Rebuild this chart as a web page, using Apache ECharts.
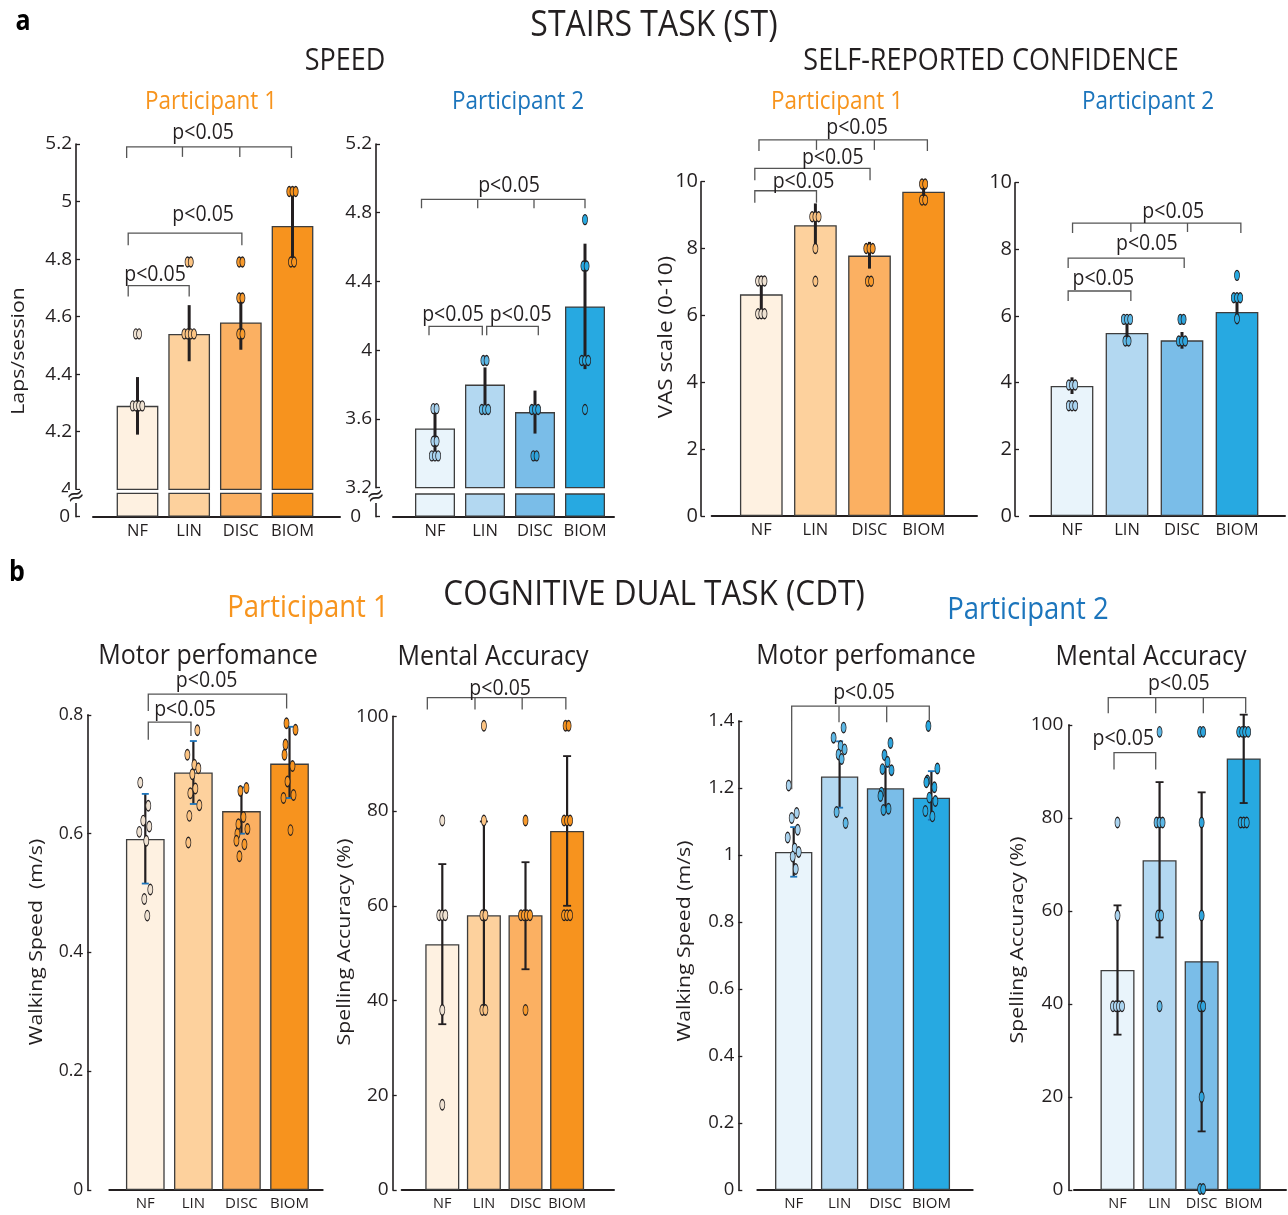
<!DOCTYPE html>
<html><head><meta charset="utf-8">
<script src="https://cdn.jsdelivr.net/npm/echarts@6/dist/echarts.min.js"></script>
<style>html,body{margin:0;padding:0;background:#fff}#c{width:1288px;height:1215px}</style>
</head><body><div id="c"></div>
<script>
// ---------------- DATA ----------------
const categories = ['NF', 'LIN', 'DISC', 'BIOM'];

// a) Stairs task – speed (laps/session), participant 1
const stSpeedP1Mean = [4.29, 4.54, 4.58, 4.915];
const stSpeedP1Err = [[4.19, 4.39], [4.445, 4.64], [4.485, 4.665], [4.79, 5.04]];
const stSpeedP1Pts = [
  [4.29, 4.29, 4.29, 4.29, 4.54, 4.54],
  [4.54, 4.54, 4.54, 4.54, 4.79, 4.79],
  [4.54, 4.54, 4.665, 4.665, 4.79, 4.79],
  [5.035, 5.035, 5.035, 4.79, 4.79]
];
const stSpeedP1Ticks = [4, 4.2, 4.4, 4.6, 4.8, 5, 5.2];
const stSpeedP1Sig = [
  {from: 0.79, to: 3.98, y: 5.19, ticks: [1.87, 2.98], label: [2.27, 5.239], drop: [11, 11, 10]},
  {from: 0.82, to: 3.02, y: 4.89, ticks: [], label: [2.27, 4.954], drop: [12, 12, 0]},
  {from: 0.82, to: 2.0, y: 4.708, ticks: [], label: [1.34, 4.745], drop: [11, 11, 0]}
];

// a) Stairs task – speed, participant 2
const stSpeedP2Mean = [3.545, 3.80, 3.64, 4.255];
const stSpeedP2Err = [[3.41, 3.685], [3.68, 3.90], [3.515, 3.765], [3.89, 4.62]];
const stSpeedP2Pts = [
  [3.66, 3.66, 3.47, 3.47, 3.385, 3.385, 3.385],
  [3.94, 3.94, 3.655, 3.655, 3.655],
  [3.655, 3.655, 3.655, 3.385, 3.385],
  [4.76, 4.49, 4.49, 3.94, 3.94, 3.94, 3.655]
];
const stSpeedP2Ticks = [3.2, 3.6, 4, 4.4, 4.8, 5.2];
const stSpeedP2Sig = [
  {from: 0.73, to: 4.0, y: 4.878, ticks: [1.854, 2.98], label: [2.48, 4.959], drop: [9, 9, 9]},
  {from: 0.88, to: 1.946, y: 4.139, ticks: [], label: [1.36, 4.207], drop: [9, 9, 0]},
  {from: 2.034, to: 3.066, y: 4.139, ticks: [], label: [2.714, 4.207], drop: [9, 9, 0]}
];

// a) Stairs task – self-reported confidence (VAS 0-10), participant 1
const stConfP1Mean = [6.63, 8.70, 7.79, 9.70];
const stConfP1Err = [[6.15, 7.10], [8.0, 9.35], [7.4, 8.2], [9.45, 10.0]];
const stConfP1Pts = [
  [7.03, 7.03, 7.03, 6.05, 6.05, 6.05],
  [8.95, 8.95, 8.95, 8.0, 7.02],
  [8.0, 8.0, 8.0, 7.02, 7.02],
  [9.93, 9.93, 9.45, 9.45]
];
const stConfP1Ticks = [0, 2, 4, 6, 8, 10];
const stConfP1Sig = [
  {from: 0.957, to: 4.07, y: 11.25, ticks: [2.02, 3.09], label: [2.77, 11.6], drop: [11, 11, 10]},
  {from: 0.88, to: 3.01, y: 10.4, ticks: [], label: [2.32, 10.72], drop: [12, 12, 0]},
  {from: 0.88, to: 2.02, y: 9.73, ticks: [], label: [1.78, 10.0], drop: [12, 12, 0]}
];

// a) Stairs task – self-reported confidence, participant 2
const stConfP2Mean = [3.90, 5.49, 5.27, 6.12];
const stConfP2Err = [[3.66, 4.16], [5.2, 5.9], [5.02, 5.52], [5.92, 6.52]];
const stConfP2Pts = [
  [3.93, 3.93, 3.93, 3.31, 3.31, 3.31],
  [5.9, 5.9, 5.9, 5.25, 5.25],
  [5.9, 5.9, 5.25, 5.25, 5.25],
  [7.22, 6.55, 6.55, 6.55, 5.92]
];
const stConfP2Ticks = [0, 2, 4, 6, 8, 10];
const stConfP2Sig = [
  {from: 1.01, to: 4.07, y: 8.79, ticks: [2.07, 3.1], label: [2.84, 9.12], drop: [10, 10, 9]},
  {from: 0.93, to: 3.04, y: 7.74, ticks: [], label: [2.36, 8.17], drop: [10, 10, 0]},
  {from: 0.93, to: 2.07, y: 6.75, ticks: [], label: [1.57, 7.12], drop: [10, 10, 0]}
];

// b) Cognitive dual task – motor performance (walking speed m/s), participant 1
const cdtMotorP1Mean = [0.591, 0.703, 0.638, 0.718];
const cdtMotorP1Err = [[0.516, 0.667], [0.650, 0.756], [0.600, 0.678], [0.660, 0.780]];
const cdtMotorP1Pts = [
  [0.686, 0.647, 0.622, 0.612, 0.603, 0.588, 0.506, 0.49, 0.462],
  [0.774, 0.733, 0.716, 0.71, 0.70, 0.676, 0.668, 0.648, 0.63, 0.585],
  [0.677, 0.672, 0.628, 0.616, 0.608, 0.60, 0.588, 0.582, 0.562],
  [0.786, 0.775, 0.75, 0.733, 0.714, 0.688, 0.665, 0.66, 0.606]
];
const cdtMotorP1Ticks = [0, 0.2, 0.4, 0.6, 0.8];
const cdtMotorP1Sig = [
  {from: 1.062, to: 3.94, y: 0.835, ticks: [], label: [2.277, 0.857], drop: [17, 14.5, 0]},
  {from: 1.062, to: 1.95, y: 0.788, ticks: [], label: [1.826, 0.809], drop: [17.6, 14, 0]}
];

// b) Cognitive dual task – mental accuracy (spelling %), participant 1
const cdtMentalP1Mean = [51.9, 58.0, 58.0, 75.8];
const cdtMentalP1Err = [[35.0, 68.8], [38.2, 77.8], [46.6, 69.2], [60.0, 91.6]];
const cdtMentalP1Pts = [
  [78, 58, 58, 58, 38, 18],
  [98, 78, 58, 58, 38, 38],
  [78, 58, 58, 58, 58, 38],
  [98, 98, 78, 78, 78, 58, 58, 58]
];
const cdtMentalP1Ticks = [0, 20, 40, 60, 80, 100];
const cdtMentalP1Sig = [
  {from: 0.64, to: 3.97, y: 103.95, ticks: [1.786, 2.92], label: [2.39, 105.8], drop: [12, 12, 12]}
];

// b) Cognitive dual task – motor performance, participant 2
const cdtMotorP2Mean = [1.009, 1.234, 1.199, 1.171];
const cdtMotorP2Err = [[0.935, 1.083], [1.141, 1.339], [1.138, 1.263], [1.105, 1.25]];
const cdtMotorP2Pts = [
  [1.207, 1.125, 1.11, 1.075, 1.052, 1.019, 1.009, 0.995, 0.958],
  [1.38, 1.35, 1.325, 1.315, 1.30, 1.286, 1.128, 1.095],
  [1.334, 1.298, 1.278, 1.256, 1.253, 1.186, 1.176, 1.138, 1.134],
  [1.385, 1.258, 1.222, 1.217, 1.202, 1.171, 1.161, 1.131, 1.115]
];
const cdtMotorP2Ticks = [0, 0.2, 0.4, 0.6, 0.8, 1, 1.2, 1.4];
const cdtMotorP2Sig = [
  {from: 0.956, to: 3.954, y: 1.444, ticks: [1.987, 3.026], label: [2.532, 1.484], drop: [83, 14, 16]}
];

// b) Cognitive dual task – mental accuracy, participant 2
const cdtMentalP2Mean = [47.3, 70.9, 49.2, 92.8];
const cdtMentalP2Err = [[33.4, 61.2], [54.3, 87.7], [12.6, 85.5], [83.2, 102.2]];
const cdtMentalP2Pts = [
  [79, 59, 39.5, 39.5, 39.5, 39.5],
  [98.5, 79, 79, 79, 59, 59, 39.5],
  [98.5, 98.5, 79, 59, 39.5, 39.5, 20, 0.2, 0.2],
  [98.5, 98.5, 98.5, 98.5, 79, 79, 79]
];
const cdtMentalP2Ticks = [0, 20, 40, 60, 80, 100];
const cdtMentalP2Sig = [
  {from: 0.78, to: 4.047, y: 105.85, ticks: [1.908, 3.04], label: [2.46, 108.8], drop: [15.6, 15.6, 15.6]},
  {from: 0.917, to: 1.908, y: 94.04, ticks: [], label: [1.138, 96.9], drop: [17, 17, 0]}
];

// ---------------- STYLE ----------------
const FONT = "'Open Sans', 'Noto Sans', 'DejaVu Sans', sans-serif";
const INK = '#231f20';
const P1C = '#f7941d', P2C = '#1c75bc';
const ORANGE = ['#fef1e1', '#fdd19d', '#fbb062', '#f7931e'];
const BLUE = ['#e9f4fb', '#b3d8f1', '#7abde8', '#27a9e1'];
const ORANGE_DOT = ['#efe2d2', '#fcc483', '#f89a2c', '#f7931e'];
const BLUE_DOT = ['#a9d3ef', '#5db8e6', '#2fa4dc', '#27a9e1'];
const ELLIPSE = 'path://M5,0C7.76,0,10,2.24,10,5C10,7.76,7.76,10,5,10C2.24,10,0,7.76,0,5C0,2.24,2.24,0,5,0Z';
const JITTER = [-5, 3, -2, 4, -6, 1, 5, -1, 2, -3, 6, -4];

const panels = [
  {mean: stSpeedP1Mean, err: stSpeedP1Err, pts: stSpeedP1Pts, ticks: stSpeedP1Ticks, sig: stSpeedP1Sig, pal: ORANGE, dotPal: ORANGE_DOT,
   box: {left: 93, right: 340, top: 144, bottom: 489.3, axisX: 76, c1: 137.5, step: 51.67, barW: 41.7},
   stub: {top: 493.3, bottom: 516.7, max: 4, margin: 6},
   tickFont: 19, tickMargin: 4, catFont: 16.5, errW: 3, cap: 0, dot: [5, 10], spread: 3.2, jitter: false},
  {mean: stSpeedP2Mean, err: stSpeedP2Err, pts: stSpeedP2Pts, ticks: stSpeedP2Ticks, sig: stSpeedP2Sig, pal: BLUE, dotPal: BLUE_DOT,
   box: {left: 393, right: 614, top: 144, bottom: 487.7, axisX: 376, c1: 435, step: 50, barW: 40},
   stub: {top: 494, bottom: 516.7, max: 3.2, margin: 15},
   tickFont: 19, tickMargin: 4, catFont: 16.5, errW: 3, cap: 0, dot: [5, 10], spread: 3.2, jitter: false},
  {mean: stConfP1Mean, err: stConfP1Err, pts: stConfP1Pts, ticks: stConfP1Ticks, sig: stConfP1Sig, pal: ORANGE, dotPal: ORANGE_DOT,
   box: {left: 711.7, right: 977, top: 181.7, bottom: 516, axisX: 701, c1: 761.3, step: 54.1, barW: 42.7},
   tickFont: 20, tickMargin: 3, catFont: 16.5, errW: 3, cap: 0, dot: [5, 10], spread: 3.2, jitter: false},
  {mean: stConfP2Mean, err: stConfP2Err, pts: stConfP2Pts, ticks: stConfP2Ticks, sig: stConfP2Sig, pal: BLUE, dotPal: BLUE_DOT,
   box: {left: 1030, right: 1285, top: 182.7, bottom: 516, axisX: 1015, c1: 1072, step: 55, barW: 42.7},
   tickFont: 20, tickMargin: 3, catFont: 16.5, errW: 3, cap: 0, dot: [5, 10], spread: 3.2, jitter: false},
  {mean: cdtMotorP1Mean, err: cdtMotorP1Err, pts: cdtMotorP1Pts, ticks: cdtMotorP1Ticks, sig: cdtMotorP1Sig, pal: ORANGE, dotPal: ORANGE_DOT,
   box: {left: 109.3, right: 322.7, top: 714.9, bottom: 1190, axisX: 87.3, c1: 145.3, step: 48.07, barW: 38.7},
   tickFont: 17.5, tickMargin: 4, catFont: 15, errW: 2.2, cap: 7, capColor: '#1c75bc', dot: [5, 10.5], spread: 3, jitter: true},
  {mean: cdtMentalP1Mean, err: cdtMentalP1Err, pts: cdtMentalP1Pts, ticks: cdtMentalP1Ticks, sig: cdtMentalP1Sig, pal: ORANGE, dotPal: ORANGE_DOT,
   box: {left: 401.7, right: 614, top: 716.3, bottom: 1190, axisX: 392.7, c1: 442.3, step: 41.6, barW: 34},
   tickFont: 19, tickMargin: 4, catFont: 14.5, errW: 2.2, cap: 8, capColor: INK, dot: [5, 10.5], spread: 3, jitter: false},
  {mean: cdtMotorP2Mean, err: cdtMotorP2Err, pts: cdtMotorP2Pts, ticks: cdtMotorP2Ticks, sig: cdtMotorP2Sig, pal: BLUE, dotPal: BLUE_DOT,
   box: {left: 757.3, right: 972.7, top: 720.9, bottom: 1190, axisX: 738.3, c1: 793.7, step: 45.9, barW: 37.3},
   tickFont: 18.5, tickMargin: 4, catFont: 15, errW: 2.2, cap: 7, capColor: '#1c75bc', dot: [5, 10.5], spread: 3, jitter: true},
  {mean: cdtMentalP2Mean, err: cdtMentalP2Err, pts: cdtMentalP2Pts, ticks: cdtMentalP2Ticks, sig: cdtMentalP2Sig, pal: BLUE, dotPal: BLUE_DOT,
   box: {left: 1074, right: 1286, top: 724.9, bottom: 1190, axisX: 1068.3, c1: 1117.5, step: 42.07, barW: 34},
   tickFont: 19, tickMargin: 5, catFont: 14.5, errW: 2.2, cap: 8, capColor: INK, dot: [5, 10.5], spread: 3, jitter: false}
];

// ---------------- BUILD ----------------
function makeX(gi, min, max, show, font) {
  return {gridIndex: gi, type: 'value', min, max,
    axisLine: {show, onZero: false, lineStyle: {color: INK, width: 2}},
    axisTick: {show: false}, splitLine: {show: false},
    axisLabel: {show, customValues: [1, 2, 3, 4], formatter: v => categories[Math.round(v) - 1],
      fontSize: font, fontFamily: FONT, color: INK, margin: 6}};
}
function makeY(gi, min, max, offset, font, vals, margin) {
  return {gridIndex: gi, type: 'value', position: 'left', min, max, offset,
    axisLine: {show: true, onZero: false, lineStyle: {color: INK, width: 1.6}},
    axisTick: {show: true, inside: true, length: 4, customValues: vals, lineStyle: {color: INK, width: 1.3}},
    axisLabel: {show: true, customValues: vals, fontSize: font, fontFamily: FONT, color: INK, margin},
    splitLine: {show: false}};
}
function barSeries(xi, yi, p) {
  return {type: 'bar', xAxisIndex: xi, yAxisIndex: yi, barWidth: p.box.barW, clip: true, silent: true, z: 2,
    itemStyle: {borderColor: '#3d3d3d', borderWidth: 1.3},
    data: p.mean.map((v, i) => ({value: [i + 1, v], itemStyle: {color: p.pal[i]}}))};
}
function errRender(p) {
  return function (params, api) {
    const x = api.value(0), lo = api.value(1), hi = api.value(2);
    const a = api.coord([x, lo]), b = api.coord([x, hi]);
    const ch = [{type: 'line', shape: {x1: a[0], y1: a[1], x2: b[0], y2: b[1]}, style: {stroke: INK, lineWidth: p.errW}}];
    if (p.cap) {
      const h = p.cap / 2, cs = {stroke: p.capColor, lineWidth: 1.8};
      ch.push({type: 'line', shape: {x1: a[0] - h, y1: a[1], x2: a[0] + h, y2: a[1]}, style: cs});
      ch.push({type: 'line', shape: {x1: b[0] - h, y1: b[1], x2: b[0] + h, y2: b[1]}, style: cs});
    }
    return {type: 'group', children: ch};
  };
}
function sigRender(sig) {
  return function (params, api) {
    const s = sig[params.dataIndex];
    const p1 = api.coord([s.from, s.y]), p2 = api.coord([s.to, s.y]);
    const st = {stroke: '#555', lineWidth: 1.3, fill: 'none'};
    const ch = [{type: 'polyline', shape: {points: [[p1[0], p1[1] + s.drop[0]], p1, p2, [p2[0], p2[1] + s.drop[1]]]}, style: st}];
    s.ticks.forEach(t => {
      const q = api.coord([t, s.y]);
      ch.push({type: 'line', shape: {x1: q[0], y1: q[1], x2: q[0], y2: q[1] + s.drop[2]}, style: st});
    });
    const l = api.coord(s.label);
    ch.push({type: 'text', scaleY: 1.1, x: l[0], y: l[1], style: {text: 'p<0.05', x: 0, y: 0, fill: INK, fontSize: 19.5, fontFamily: FONT,
      align: 'center', verticalAlign: 'middle', textAlign: 'center', textVerticalAlign: 'middle'}});
    return {type: 'group', children: ch};
  };
}
function dotData(p) {
  const out = [];
  p.pts.forEach((vals, i) => {
    const groups = {};
    const order = [];
    vals.forEach(v => { const k = v.toFixed(3); if (!groups[k]) { groups[k] = []; order.push(k); } groups[k].push(v); });
    let j = i * 3;
    order.forEach(k => {
      const g = groups[k], n = g.length;
      g.forEach((v, m) => {
        let off = (m - (n - 1) / 2) * p.spread;
        if (p.jitter) off += JITTER[(j++) % JITTER.length];
        out.push({value: [i + 1 + off / p.box.step, v], itemStyle: {color: p.dotPal[i]}});
      });
    });
  });
  return out;
}

const grid = [], xAxis = [], yAxis = [], series = [];
panels.forEach(p => {
  const b = p.box;
  const xmin = 1 - (b.c1 - b.left) / b.step, xmax = 1 + (b.right - b.c1) / b.step;
  const addGrid = (top, bottom) => { grid.push({left: b.left, top, width: b.right - b.left, height: bottom - top}); return grid.length - 1; };
  const gi = addGrid(b.top, b.bottom);
  xAxis.push(makeX(gi, xmin, xmax, !p.stub, p.catFont));
  yAxis.push(makeY(gi, p.ticks[0], p.ticks[p.ticks.length - 1], b.left - b.axisX, p.tickFont, p.ticks, p.tickMargin));
  const xi = xAxis.length - 1, yi = yAxis.length - 1;
  series.push(barSeries(xi, yi, p));
  if (p.stub) {
    const gs = addGrid(p.stub.top, p.stub.bottom);
    xAxis.push(makeX(gs, xmin, xmax, true, p.catFont));
    yAxis.push(makeY(gs, 0, p.stub.max, b.left - b.axisX, p.tickFont, [0], p.stub.margin));
    series.push(barSeries(xAxis.length - 1, yAxis.length - 1, p));
  }
  series.push({type: 'custom', xAxisIndex: xi, yAxisIndex: yi, silent: true, z: 3, renderItem: errRender(p),
    encode: {x: 0, y: [1, 2]}, data: p.err.map((e, i) => [i + 1, e[0], e[1]])});
  series.push({type: 'scatter', xAxisIndex: xi, yAxisIndex: yi, symbol: ELLIPSE, symbolSize: p.dot, clip: false, silent: true, z: 4,
    itemStyle: {borderColor: INK, borderWidth: 1, opacity: 1}, data: dotData(p)});
  series.push({type: 'custom', xAxisIndex: xi, yAxisIndex: yi, silent: true, z: 5, renderItem: sigRender(p.sig),
    data: p.sig.map(s => [s.from, s.y])});
});

const TEXTS = [
  {t: 'a', x: 23, y: 22, s: 25, w: 'bold', c: '#000'},
  {t: 'STAIRS TASK (ST)', x: 654, y: 26, s: 32},
  {t: 'SPEED', x: 345, y: 61, s: 27},
  {t: 'SELF-REPORTED CONFIDENCE', x: 991, y: 61, s: 27},
  {t: 'Participant 1', x: 211, y: 102, s: 22.5, c: P1C},
  {t: 'Participant 2', x: 518, y: 102, s: 22.5, c: P2C},
  {t: 'Participant 1', x: 837, y: 102, s: 22.5, c: P1C},
  {t: 'Participant 2', x: 1148, y: 102, s: 22.5, c: P2C},
  {t: 'b', x: 17, y: 573, s: 25, w: 'bold', c: '#000'},
  {t: 'COGNITIVE DUAL TASK (CDT)', x: 654, y: 595, s: 31.5},
  {t: 'Participant 1', x: 308, y: 608, s: 27.5, c: P1C},
  {t: 'Participant 2', x: 1028, y: 610, s: 27.5, c: P2C},
  {t: 'Motor perfomance', x: 208, y: 656, s: 25},
  {t: 'Mental Accuracy', x: 493, y: 657, s: 25},
  {t: 'Motor perfomance', x: 866, y: 656, s: 25},
  {t: 'Mental Accuracy', x: 1151, y: 657, s: 25},
  {t: 'Laps/session', x: 19, y: 351, s: 19, r: true},
  {t: 'VAS scale (0-10)', x: 666, y: 337, s: 20, r: true},
  {t: 'Walking Speed  (m/s)', x: 37, y: 942, s: 19, r: true},
  {t: 'Spelling Accuracy (%)', x: 345, y: 942, s: 19, r: true},
  {t: 'Walking Speed (m/s)', x: 685, y: 941, s: 19, r: true},
  {t: 'Spelling Accuracy (%)', x: 1018, y: 940, s: 19, r: true}
];
const graphic = TEXTS.map(o => ({type: 'text', x: o.x, y: o.y, rotation: o.r ? Math.PI / 2 : 0,
  scaleX: o.r ? 1.12 : 1, scaleY: o.r ? 1 : 1.12, z: 60, silent: true,
  style: {text: o.t, fill: o.c || INK, fontSize: o.s, fontWeight: o.w || 'normal', fontFamily: FONT,
    align: 'center', verticalAlign: 'middle', textAlign: 'center', textVerticalAlign: 'middle'}}));
// axis-break marks
[[76, 497], [376, 497]].forEach(([x, y]) => {
  graphic.push({type: 'rect', z: 55, silent: true, shape: {x: x - 8, y: y - 7, width: 16, height: 13}, style: {fill: '#fff'}});
  graphic.push({type: 'text', z: 60, silent: true, x, y, rotation: 0.35,
    style: {text: '\u2248', fill: INK, fontSize: 22, fontFamily: "'DejaVu Sans', sans-serif", align: 'center', verticalAlign: 'middle',
      textAlign: 'center', textVerticalAlign: 'middle'}});
});

const chart = echarts.init(document.getElementById('c'), null, {renderer: 'canvas'});
chart.setOption({animation: false, backgroundColor: '#fff', grid, xAxis, yAxis, series, graphic});
</script>
</body></html>
